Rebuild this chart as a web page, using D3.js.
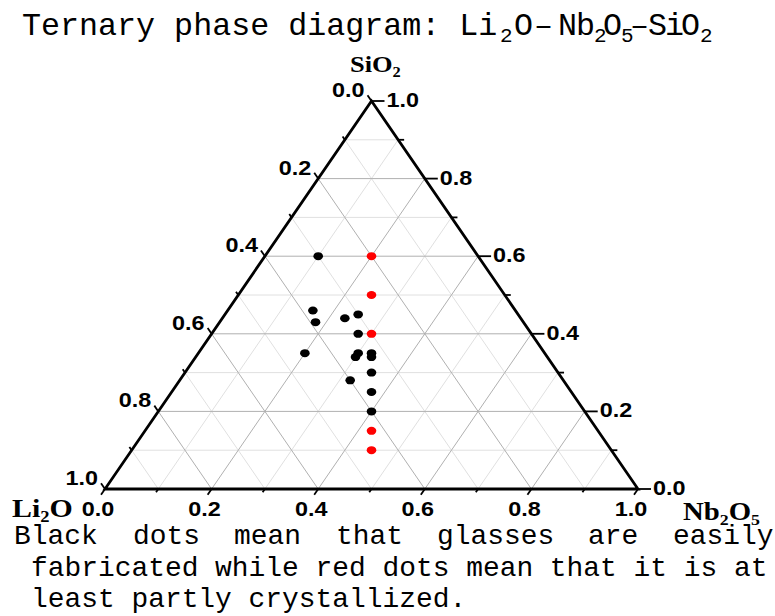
<!DOCTYPE html>
<html><head><meta charset="utf-8">
<script src="https://cdn.jsdelivr.net/npm/d3@7/dist/d3.min.js"></script>
<style>html,body{margin:0;padding:0;background:#fff;} svg{display:block;}</style>
</head><body>
<script>
// ---- data (mole fractions) ----
const glassLi2O  = [0.30, 0.38, 0.39, 0.33, 0.30, 0.325, 0.45, 0.35, 0.36, 0.325, 0.33, 0.35, 0.40, 0.375, 0.40];
const glassNb2O5 = [0.10, 0.16, 0.18, 0.23, 0.25, 0.275, 0.20, 0.30, 0.30, 0.325, 0.33, 0.35, 0.32, 0.375, 0.40];
const glassSiO2  = [0.60, 0.46, 0.43, 0.44, 0.45, 0.40, 0.35, 0.35, 0.34, 0.35, 0.34, 0.30, 0.28, 0.25, 0.20];
const crystLi2O  = [0.20, 0.25, 0.30, 0.425, 0.45];
const crystNb2O5 = [0.20, 0.25, 0.30, 0.425, 0.45];
const crystSiO2  = [0.60, 0.50, 0.40, 0.15, 0.10];
const tickValues = [0, 0.1, 0.2, 0.3, 0.4, 0.5, 0.6, 0.7, 0.8, 0.9, 1.0];
const majorTicks = [0, 0.2, 0.4, 0.6, 0.8, 1.0];
const tickLabels = ["0.0", "0.2", "0.4", "0.6", "0.8", "1.0"];
const noteLine1Words = ["Black", "dots", "mean", "that", "glasses", "are", "easily"];
const noteLine2 = "fabricated while red dots mean that it is at";
const noteLine3 = "least partly crystallized.";

const W = 775, H = 616;
const svg = d3.select("body").append("svg").attr("width", W).attr("height", H);
svg.append("rect").attr("width", W).attr("height", H).attr("fill", "#fff");

// ternary -> screen via linear scales
const xScale = d3.scaleLinear().domain([0, 1]).range([105, 638]);
const yScale = d3.scaleLinear().domain([0, 1]).range([489, 101]);
const pt = (li, nb, si) => [xScale(nb + si / 2), yScale(si)];

// ---- grid ----
const gridVals = d3.range(1, 10).map(i => i / 10);
const gMinor = svg.append("g"), gMajor = svg.append("g");
gridVals.forEach((v, i) => {
  const major = (i + 1) % 2 === 0;
  const g = major ? gMajor : gMinor;
  const segs = [
    [pt(1 - v, 0, v), pt(0, 1 - v, v)],
    [pt(1 - v, v, 0), pt(0, v, 1 - v)],
    [pt(v, 1 - v, 0), pt(v, 0, 1 - v)]
  ];
  segs.forEach(([a, b]) => {
    g.append("line").attr("x1", a[0]).attr("y1", a[1]).attr("x2", b[0]).attr("y2", b[1])
      .attr("stroke", major ? "#b0b0b0" : "#e0e0e0").attr("stroke-width", 1);
  });
});

// ---- ticks ----
const isMajor = v => majorTicks.some(m => Math.abs(m - v) < 1e-9);
const ticks = svg.append("g").attr("stroke", "#000").attr("stroke-width", 1.8);
const dLeft = [-0.5655, -0.8248], dBottom = [-0.567, 0.824], dRight = [1, 0];
tickValues.forEach(v => {
  const M = isMajor(v);
  let p = pt(v, 0, 1 - v), len = M ? 7 : 4;
  ticks.append("line").attr("x1", p[0]).attr("y1", p[1]).attr("x2", p[0] + dLeft[0] * len).attr("y2", p[1] + dLeft[1] * len);
  p = pt(1 - v, v, 0);
  ticks.append("line").attr("x1", p[0]).attr("y1", p[1]).attr("x2", p[0] + dBottom[0] * len).attr("y2", p[1] + dBottom[1] * len);
  p = pt(0, 1 - v, v); len = M ? 13 : 6;
  ticks.append("line").attr("x1", p[0]).attr("y1", p[1]).attr("x2", p[0] + dRight[0] * len).attr("y2", p[1]);
});

// ---- triangle ----
const corners = [pt(1, 0, 0), pt(0, 1, 0), pt(0, 0, 1)];
svg.append("path").attr("d", d3.line()(corners) + "Z")
  .attr("fill", "none").attr("stroke", "#000").attr("stroke-width", 2.8).attr("stroke-linejoin", "miter");

// ---- tick labels ----
const tl = svg.append("g").attr("font-family", "'Liberation Sans', Arial, sans-serif")
  .attr("font-weight", "bold").attr("font-size", 19.5).attr("fill", "#000");
majorTicks.forEach((v, i) => {
  let p = pt(v, 0, 1 - v);
  tl.append("text").attr("text-anchor", "end")
    .attr("transform", `translate(${p[0] - 7},${p[1] - 4}) scale(1.2,1)`).text(tickLabels[i]);
  p = pt(1 - v, v, 0);
  tl.append("text").attr("text-anchor", "middle")
    .attr("transform", `translate(${p[0] - 7},516) scale(1.2,1)`).text(tickLabels[i]);
  p = pt(0, 1 - v, v);
  tl.append("text").attr("text-anchor", "start")
    .attr("transform", `translate(${p[0] + 15},${p[1] + 6}) scale(1.2,1)`).text(tickLabels[i]);
});

// ---- axis names ----
const an = svg.append("g").attr("font-family", "'Liberation Serif', 'Times New Roman', serif")
  .attr("font-weight", "bold").attr("fill", "#000");
function formula(x, y, size, parts) {
  const t = an.append("text").attr("transform", `translate(${x},${y}) scale(1.15,1)`).attr("font-size", size);
  parts.forEach(([s, sub]) => {
    t.append("tspan").attr("y", sub ? size * 0.2 : 0).attr("font-size", sub ? size * 0.62 : null).text(s);
  });
}
formula(350, 72, 23, [["SiO", false], ["2", true]]);
formula(12, 517, 26, [["Li", false], ["2", true], ["O", false]]);
formula(683, 520, 25, [["Nb", false], ["2", true], ["O", false], ["5", true]]);

// ---- data points ----
const pts = svg.append("g");
glassLi2O.forEach((li, i) => {
  const p = pt(li, glassNb2O5[i], glassSiO2[i]);
  pts.append("ellipse").attr("cx", p[0]).attr("cy", p[1]).attr("rx", 4.8).attr("ry", 4).attr("fill", "#000");
});
crystLi2O.forEach((li, i) => {
  const p = pt(li, crystNb2O5[i], crystSiO2[i]);
  pts.append("ellipse").attr("cx", p[0]).attr("cy", p[1]).attr("rx", 4.8).attr("ry", 4).attr("fill", "#ff0000");
});

// ---- title ----
const mono = "'Liberation Mono', 'Courier New', monospace";
const title = svg.append("text").attr("font-family", mono).attr("font-size", 31.7).attr("fill", "#000");
const tparts = [["Ternary phase diagram: Li", 22, false], ["2", 500, true], ["O", 514, false], ["\u2013", 534, false],
  ["N", 558, false], ["b", 576, false], ["2", 594, true], ["O", 603, false], ["5", 621, true], ["\u2013", 630, false],
  ["S", 648, false], ["i", 665, false], ["O", 681, false], ["2", 700, true]];
tparts.forEach(([s, x, sub]) => {
  title.append("tspan").attr("x", x).attr("y", sub ? 42 : 35).attr("font-size", sub ? 21 : null).text(s);
});

// ---- note ----
const note = svg.append("g").attr("font-family", mono).attr("font-size", 27.9).attr("fill", "#000");
const l1 = note.append("text").attr("y", 544);
const wordX = [14, 133, 234, 336, 437, 588, 673];
noteLine1Words.forEach((w, i) => l1.append("tspan").attr("x", wordX[i]).text((i ? " " : "") + w).attr("dx", i ? -16.74 : 0));
note.append("text").attr("x", 31).attr("y", 576).text(noteLine2);
note.append("text").attr("x", 31).attr("y", 607).text(noteLine3);
</script>
</body></html>
